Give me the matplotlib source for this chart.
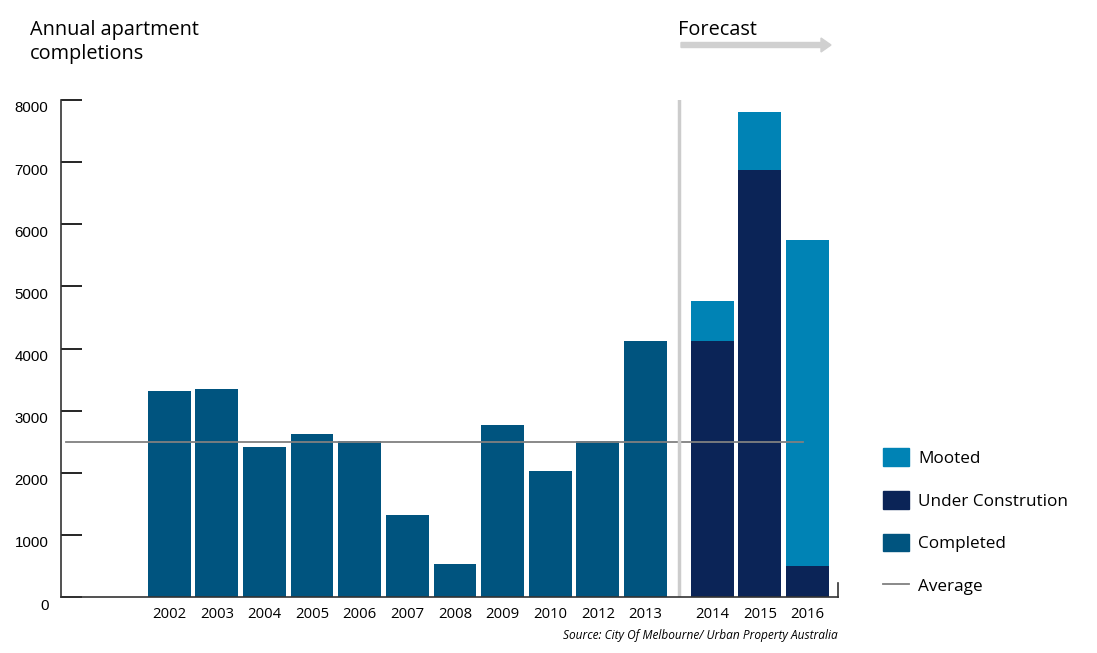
import matplotlib.pyplot as plt
import matplotlib.transforms as mtransforms
from matplotlib.patches import Patch, FancyArrow
from matplotlib.lines import Line2D

plt.rcParams['font.family'] = ['Open Sans', 'DejaVu Sans']

# data
past_years = ['2002', '2003', '2004', '2005', '2006', '2007', '2008', '2009', '2010', '2012', '2013']
completed = [3320, 3350, 2415, 2625, 2510, 1320, 530, 2770, 2030, 2510, 4120]
forecast_years = ['2014', '2015', '2016']
under_construction = [4120, 6880, 500]
mooted = [645, 930, 5250]
average = 2500

c_completed = '#00547f'
c_under = '#0b2457'
c_mooted = '#0083b5'

past_x = list(range(len(past_years)))
fc_x = [len(past_years) + 0.4 + i for i in range(len(forecast_years))]

fig = plt.figure(figsize=(10.97, 6.53), dpi=100)
ax = fig.add_axes([61 / 1097, 56 / 653, (838 - 61) / 1097, (597 - 100) / 653])

ax.bar(past_x, completed, width=0.9, color=c_completed)
ax.bar(fc_x, under_construction, width=0.9, color=c_under)
ax.bar(fc_x, mooted, width=0.9, bottom=under_construction, color=c_mooted)

ax.plot([-2.16, 13.3], [average, average], color='#808080', lw=1.3)
ax.axvline(10.7, ymin=0, ymax=1, color='#cccccc', lw=2.5)

ax.set_xlim(-2.27, 14.04)
ax.set_ylim(0, 8000)
ax.set_xticks(past_x + fc_x)
ax.set_xticklabels(past_years + forecast_years, fontsize=10.7)
ax.tick_params(axis='x', length=0, pad=7.5)

ax.set_yticks(range(0, 8001, 1000))
ax.tick_params(axis='y', direction='in', length=15, width=1.2, pad=9)
for lab in ax.get_yticklabels():
    lab.set_family('Liberation Sans')
    lab.set_fontsize(10.8)
    lab.set_transform(lab.get_transform() + mtransforms.ScaledTranslation(0, -7 / 100, fig.dpi_scale_trans))

ax.spines['top'].set_visible(False)
ax.spines['right'].set_bounds(0, 225)
for s in ['left', 'bottom', 'right']:
    ax.spines[s].set_color('#333333')
    ax.spines[s].set_linewidth(1.2)

fig.text(30 / 1097, 1 - 20 / 653, 'Annual apartment\ncompletions', fontsize=14.3,
         va='top', ha='left', linespacing=1.25)
fig.text(678 / 1097, 1 - 30 / 653, 'Forecast', fontsize=14.3, va='center', ha='left')
fig.patches.append(FancyArrow(
    681 / 1097, 1 - 45 / 653, 140 / 1097, 0, width=5 / 653, head_width=14 / 653,
    head_length=10 / 1097, length_includes_head=False, color='#d0d0d0',
    transform=fig.transFigure, figure=fig))

fig.text(838 / 1097, 1 - 635 / 653, 'Source: City Of Melbourne/ Urban Property Australia',
         fontsize=8.6, style='italic', ha='right', va='center')

handles = [Patch(color=c_mooted), Patch(color=c_under), Patch(color=c_completed),
           Line2D([0], [0], color='#808080', lw=1.3)]
labels = ['Mooted', 'Under Constrution', 'Completed', 'Average']
fig.legend(handles, labels, loc='upper left', bbox_to_anchor=(868 / 1097, 1 - 433 / 653),
           frameon=False, fontsize=12.3, handlelength=1.5, handleheight=1.2,
           labelspacing=1.42, handletextpad=0.55)

fig.savefig('out.png', dpi=100)
